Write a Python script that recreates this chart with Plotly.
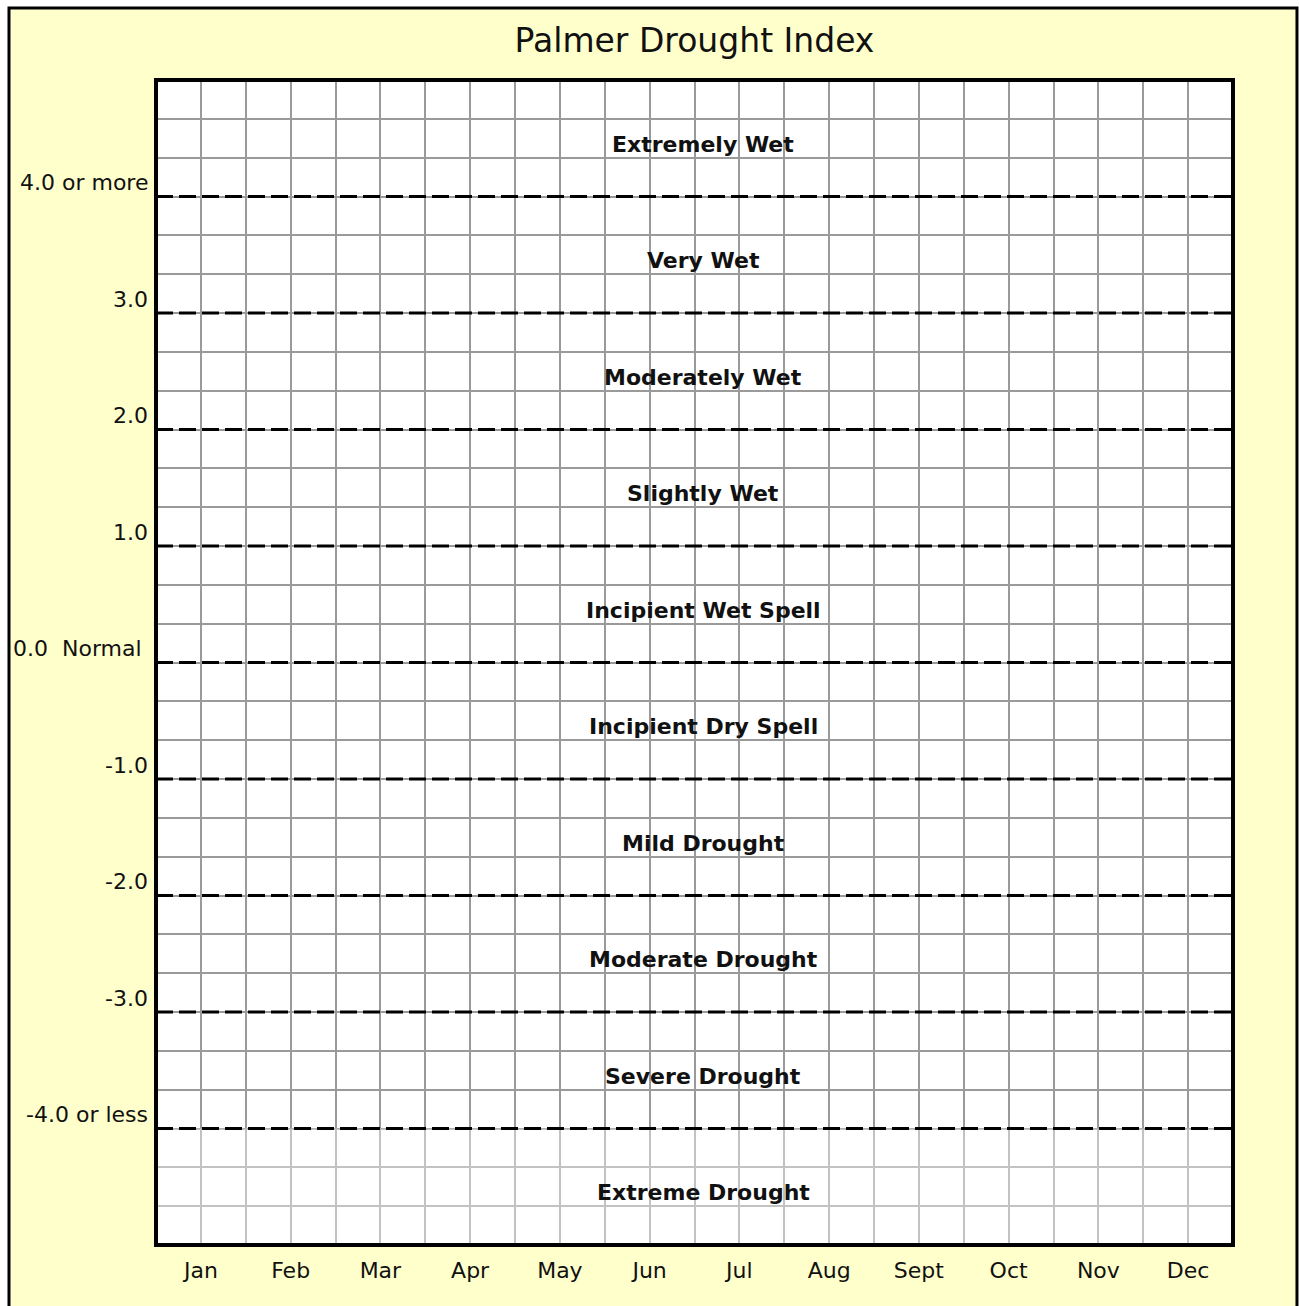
import plotly.graph_objects as go

# ---- data ----
months = ["Jan", "Feb", "Mar", "Apr", "May", "Jun", "Jul", "Aug", "Sept", "Oct", "Nov", "Dec"]
month_pos = [i + 0.5 for i in range(len(months))]
thresholds = [4, 3, 2, 1, 0, -1, -2, -3, -4]
threshold_labels = ["4.0 or more", "3.0", "2.0", "1.0", "0.0\u00a0\u00a0Normal",
                    "-1.0", "-2.0", "-3.0", "-4.0 or less"]
categories = ["Extremely Wet", "Very Wet", "Moderately Wet", "Slightly Wet",
              "Incipient Wet Spell", "Incipient Dry Spell", "Mild Drought",
              "Moderate Drought", "Severe Drought", "Extreme Drought"]
category_centers = [4.5, 3.5, 2.5, 1.5, 0.5, -0.5, -1.5, -2.5, -3.5, -4.5]

FONT = "DejaVu Sans"
GRID = "#9a9a9a"
YELLOW = "#FFFFCC"
TXT = "#111111"

fig = go.Figure()

# dashed threshold lines
for v in thresholds:
    fig.add_trace(go.Scatter(x=[0, 12], y=[v, v], mode="lines",
                             line=dict(color="black", width=3, dash="17px,6px"),
                             hoverinfo="skip", showlegend=False))

shapes = [
    # outer yellow panel (bottom edge falls outside the page)
    dict(type="rect", xref="paper", yref="paper", x0=-0.1365, x1=1.0594, y0=-0.2, y1=1.0618,
         fillcolor=YELLOW, line=dict(color="black", width=3), layer="below"),
    # white plot area
    dict(type="rect", xref="paper", yref="paper", x0=0, x1=1, y0=0, y1=1,
         fillcolor="white", line=dict(width=0), layer="below"),
    # lighten the grid in the lowest band
    dict(type="rect", xref="x", yref="y", x0=0, x1=12, y0=-5, y1=thresholds[-1],
         fillcolor="rgba(255,255,255,0.4)", line=dict(width=0), layer="between"),
    # plot frame
    dict(type="rect", xref="paper", yref="paper", x0=0, x1=1, y0=0, y1=1,
         line=dict(color="black", width=4), layer="above"),
]

annotations = []
for v, lab in zip(thresholds, threshold_labels):
    if "Normal" in lab:
        annotations.append(dict(xref="paper", yref="y", x=0, y=v, text=lab, showarrow=False,
                                xanchor="left", yanchor="middle", xshift=-145, yshift=14,
                                font=dict(family=FONT, size=22, color=TXT)))
    else:
        annotations.append(dict(xref="paper", yref="y", x=0, y=v, text=lab, showarrow=False,
                                xanchor="right", yanchor="middle", xshift=-6, yshift=14,
                                font=dict(family=FONT, size=22, color=TXT)))
for c, yc in zip(categories, category_centers):
    annotations.append(dict(xref="x", yref="y", x=6.1, y=yc, text="<b>" + c + "</b>",
                            showarrow=False, xanchor="center", yanchor="middle", yshift=-6,
                            font=dict(family=FONT, size=22, color=TXT)))

fig.update_layout(
    width=1299, height=1306, autosize=False,
    margin=dict(l=156, r=66, t=80, b=61),
    paper_bgcolor="white", plot_bgcolor="white",
    title=dict(text="Palmer Drought Index", x=0.5, xref="paper", xanchor="center",
               y=1 - 40 / 1306, yref="container", yanchor="middle",
               font=dict(family=FONT, size=33, color=TXT)),
    shapes=shapes, annotations=annotations, showlegend=False,
    xaxis=dict(range=[0, 12], tickmode="array", tickvals=month_pos, ticktext=months,
               showgrid=True, gridcolor=GRID, gridwidth=2, zeroline=False, showline=False,
               ticks="", ticklabelstandoff=10,
               tickfont=dict(family=FONT, size=22, color=TXT),
               minor=dict(tickmode="linear", tick0=0, dtick=1, showgrid=True,
                          gridcolor=GRID, gridwidth=2, ticks=""),
               fixedrange=True),
    yaxis=dict(range=[-5, 5], tickmode="linear", tick0=-5, dtick=1 / 3,
               showgrid=True, gridcolor=GRID, gridwidth=2, zeroline=False,
               showline=False, showticklabels=False, ticks="", fixedrange=True),
)

fig.write_html("out.html", config={"displayModeBar": False},
               post_script="document.body.style.margin='0';document.body.style.overflow='hidden';")
